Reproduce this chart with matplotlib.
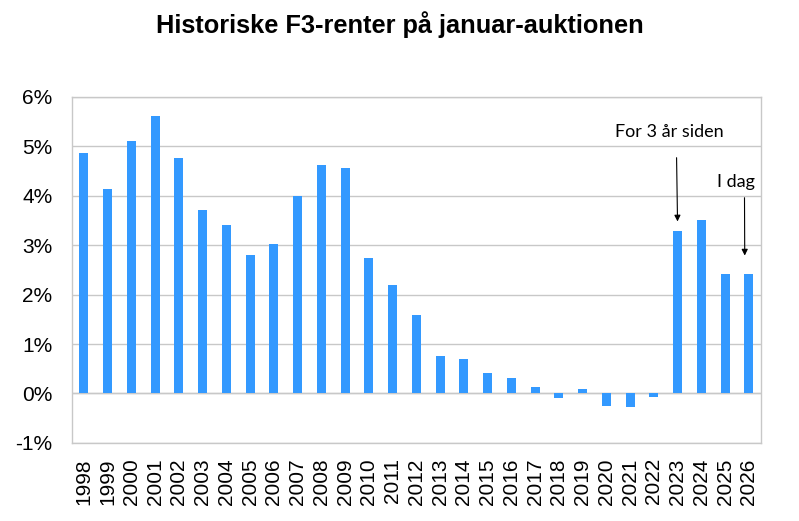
import matplotlib
matplotlib.use("Agg")
import matplotlib.pyplot as plt
import numpy as np

years = [str(y) for y in range(1998, 2027)]
rates = [4.87, 4.13, 5.10, 5.62, 4.77, 3.72, 3.40, 2.81, 3.03, 4.00,
         4.63, 4.57, 2.75, 2.20, 1.58, 0.75, 0.69, 0.42, 0.32, 0.12,
         -0.10, 0.08, -0.26, -0.28, -0.08, 3.28, 3.50, 2.41, 2.41]
yticks = [-1, 0, 1, 2, 3, 4, 5, 6]
ytick_labels = ["-1%", "0%", "1%", "2%", "3%", "4%", "5%", "6%"]
title = "Historiske F3-renter på januar-auktionen"

plt.rcParams['font.family'] = ['Liberation Sans', 'DejaVu Sans']

fig = plt.figure(figsize=(7.99, 5.21), dpi=100)
ax = fig.add_axes([0.090, 0.150, 0.862, 0.664])

x = np.arange(len(years))
ax.bar(x, rates, width=0.38, color="#3399FF", zorder=3)

ax.set_xlim(-0.5, len(years) - 0.5)
ax.set_ylim(-1, 6)
ax.set_yticks(yticks)
ax.set_yticklabels(ytick_labels, fontsize=15)
ax.set_xticks(x)
ax.set_xticklabels(years, rotation=90, fontsize=15)
ax.tick_params(axis='both', length=0)
ax.tick_params(axis='y', pad=14)
ax.tick_params(axis='x', pad=11)
ax.grid(axis='y', color="#c8c8c8", linewidth=1.0, zorder=0)
for s in ax.spines.values():
    s.set_color("#c8c8c8")
    s.set_linewidth(1.0)
ax.axhline(0, color="#c8c8c8", linewidth=1.0, zorder=2)

fig.text(0.5, 0.953, title, ha='center', va='center', fontsize=18.3, fontweight='bold')

ann_font = ['Lato', 'DejaVu Sans']
ax.annotate("", xy=(25.0, 3.48), xytext=(24.96, 4.77),
            arrowprops=dict(arrowstyle='-|>', color='black', lw=0.8,
                            mutation_scale=9, shrinkA=0, shrinkB=0))
ax.annotate("", xy=(27.83, 2.79), xytext=(27.82, 3.96),
            arrowprops=dict(arrowstyle='-|>', color='black', lw=0.8,
                            mutation_scale=9, shrinkA=0, shrinkB=0))
ax.text(24.67, 5.28, "For 3 år siden", ha='center', va='center', fontsize=13, family=ann_font)
ax.text(27.45, 4.27, "I dag", ha='center', va='center', fontsize=13, family=ann_font)

fig.savefig("out.png", dpi=100)
